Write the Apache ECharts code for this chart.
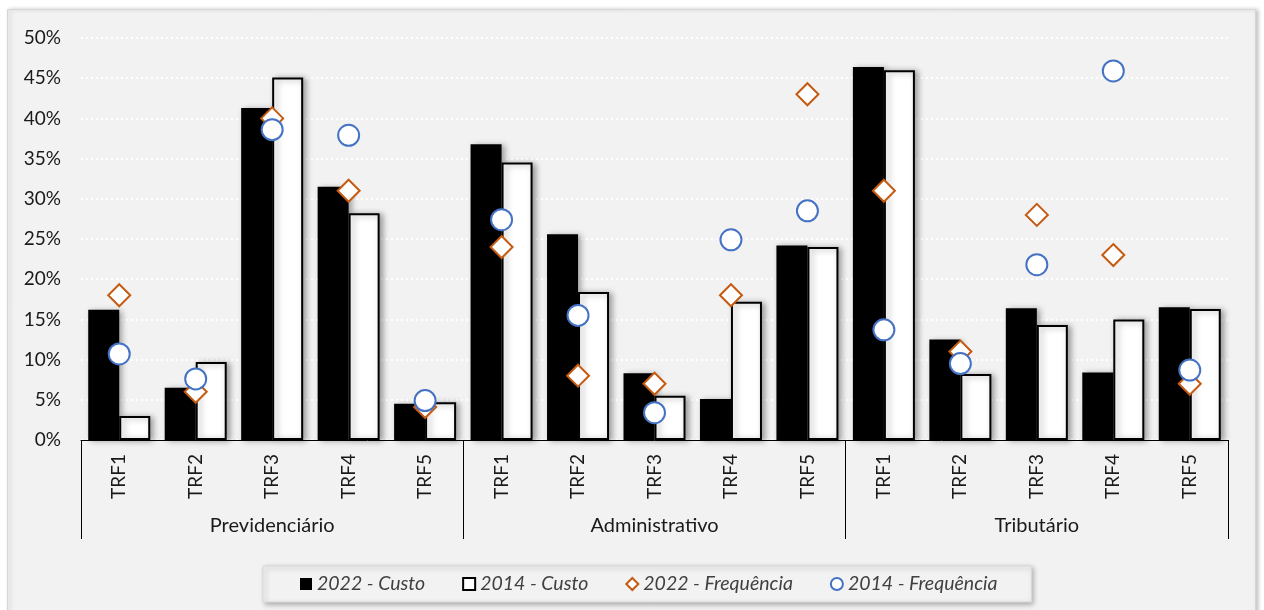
<!DOCTYPE html>
<html>
<head>
<meta charset="utf-8">
<script src="https://cdn.jsdelivr.net/npm/echarts@6/dist/echarts.min.js"></script>
<style>
  html, body { margin: 0; padding: 0; background: #ffffff; }
  #chart { width: 1264px; height: 610px; }
</style>
</head>
<body>
<div id="chart"></div>
<script>
// Categories: five regional courts inside each of three case types
const trfs = ['TRF1', 'TRF2', 'TRF3', 'TRF4', 'TRF5'];
const groups = ['Previdenciário', 'Administrativo', 'Tributário'];
const categories = groups.flatMap(() => trfs);

// Share (%) per court, in group order
const custo2022 = [16.2, 6.5, 41.3, 31.5, 4.5,  36.8, 25.6, 8.3, 5.1, 24.2,  46.4, 12.5, 16.4, 8.4, 16.5];
const custo2014 = [3.0, 9.7, 45.1, 28.2, 4.7,   34.5, 18.4, 5.5, 17.2, 24.0, 46.0, 8.2, 14.3, 15.0, 16.3];
const freq2022  = [18.0, 6.0, 40.0, 31.0, 4.1,  24.0, 8.0, 7.0, 18.0, 43.0,  31.0, 11.0, 28.0, 23.0, 7.0];
const freq2014  = [10.7, 7.6, 38.6, 37.9, 4.9,  27.4, 15.5, 3.4, 24.9, 28.5, 13.7, 9.5, 21.8, 45.9, 8.7];

const seriesNames = ['2022 - Custo', '2014 - Custo', '2022 - Frequência', '2014 - Frequência'];

const FONT = 'Lato';
const TEXT = '#1a1a1a';

const chart = echarts.init(document.getElementById('chart'), null, { renderer: 'canvas' });

const barShadow = {
  shadowColor: 'rgba(0,0,0,0.35)',
  shadowBlur: 6,
  shadowOffsetX: 3,
  shadowOffsetY: 1
};

chart.setOption({
  backgroundColor: '#ffffff',
  animation: false,
  textStyle: { fontFamily: FONT },
  graphic: [{
    type: 'rect',
    z: -10,
    silent: true,
    shape: { x: 7.5, y: 9.5, width: 1248, height: 640 },
    style: {
      fill: '#f2f2f2',
      stroke: '#d6d6d6',
      lineWidth: 1,
      shadowColor: 'rgba(0,0,0,0.22)',
      shadowBlur: 4,
      shadowOffsetX: 2,
      shadowOffsetY: 0
    }
  }],
  grid: { left: 81, right: 36, top: 38, bottom: 170, containLabel: false },
  legend: {
    left: 263,
    top: 566,
    orient: 'horizontal',
    padding: [8, 34, 8, 37],
    itemGap: 37,
    itemWidth: 12,
    itemHeight: 12,
    backgroundColor: '#f2f2f2',
    borderColor: '#d9d9d9',
    borderWidth: 1,
    shadowColor: 'rgba(0,0,0,0.3)',
    shadowBlur: 5,
    shadowOffsetX: 2,
    shadowOffsetY: 2,
    textStyle: { fontFamily: FONT, fontSize: 19.5, fontStyle: 'italic', color: '#404040' },
    data: [
      { name: seriesNames[0], icon: 'rect', itemStyle: { color: '#000', borderWidth: 0 } },
      { name: seriesNames[1], icon: 'rect', itemStyle: { color: '#fff', borderColor: '#000', borderWidth: 2 } },
      { name: seriesNames[2], icon: 'diamond', itemStyle: { color: '#fff', borderColor: '#c55a11', borderWidth: 2 } },
      { name: seriesNames[3], icon: 'circle', itemStyle: { color: '#fff', borderColor: '#4472c4', borderWidth: 2 } }
    ]
  },
  xAxis: [
    {
      type: 'category',
      data: categories,
      position: 'bottom',
      boundaryGap: true,
      axisLine: { show: true, lineStyle: { color: '#000', width: 1 } },
      axisTick: { show: false },
      axisLabel: {
        rotate: 90,
        margin: 14,
        interval: 0,
        fontFamily: FONT,
        fontSize: 19,
        color: TEXT
      },
      splitLine: { show: false }
    },
    {
      type: 'category',
      data: groups,
      position: 'bottom',
      boundaryGap: true,
      axisLine: { show: false },
      axisTick: { show: true, length: 99, interval: 0, lineStyle: { color: '#000', width: 1 } },
      axisLabel: {
        margin: 76,
        interval: 0,
        fontFamily: FONT,
        fontSize: 20,
        color: TEXT
      },
      splitLine: { show: false }
    }
  ],
  yAxis: {
    type: 'value',
    min: 0,
    max: 50,
    interval: 5,
    axisLine: { show: false },
    axisTick: { show: false },
    axisLabel: {
      formatter: '{value}%',
      margin: 20,
      fontFamily: FONT,
      fontSize: 19,
      color: TEXT
    },
    splitLine: {
      show: true,
      lineStyle: { color: '#ffffff', width: 2, type: [2, 3] }
    }
  },
  series: [
    {
      name: seriesNames[0],
      type: 'bar',
      xAxisIndex: 0,
      data: custo2022,
      barWidth: 31,
      barGap: '0%',
      z: 2,
      itemStyle: Object.assign({ color: '#000000' }, barShadow)
    },
    {
      name: seriesNames[1],
      type: 'bar',
      xAxisIndex: 0,
      data: custo2014,
      barWidth: 31,
      barGap: '0%',
      z: 2,
      itemStyle: Object.assign({ color: '#ffffff', borderColor: '#000000', borderWidth: 2 }, barShadow)
    },
    {
      name: seriesNames[2],
      type: 'scatter',
      xAxisIndex: 0,
      data: freq2022,
      symbol: 'diamond',
      symbolSize: [22, 22],
      z: 3,
      itemStyle: { color: '#ffffff', borderColor: '#c55a11', borderWidth: 2, opacity: 1 }
    },
    {
      name: seriesNames[3],
      type: 'scatter',
      xAxisIndex: 0,
      data: freq2014,
      symbol: 'circle',
      symbolSize: 21,
      z: 4,
      itemStyle: { color: '#ffffff', borderColor: '#4472c4', borderWidth: 2, opacity: 1 }
    }
  ]
});
</script>
</body>
</html>
